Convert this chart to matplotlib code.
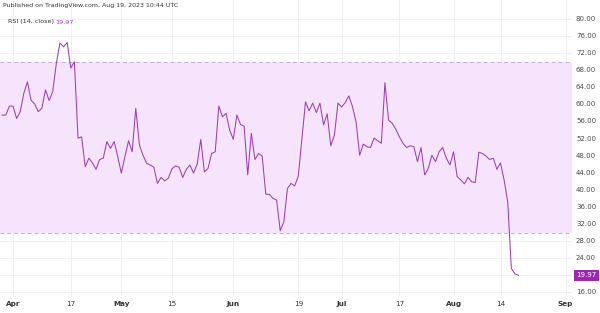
import matplotlib
matplotlib.use("Agg")
import matplotlib.pyplot as plt
import pandas as pd

start_date = "2023-03-29"
rsi_values = [
    57.5, 57.5, 59.6, 59.6, 56.7, 58.3, 62.6, 65.3, 61.0, 60.1,
    58.3, 59.1, 63.4, 60.9, 63.0, 69.6, 74.4, 73.5, 74.5, 68.5,
    70.0, 52.1, 52.4, 45.4, 47.4, 46.3, 44.8, 47.1, 47.4, 51.3,
    49.7, 51.3, 47.8, 43.9, 47.8, 51.5, 48.9, 59.1, 50.5, 48.1,
    46.2, 45.8, 45.3, 41.5, 42.9, 42.1, 42.7, 44.9, 45.6, 45.3,
    42.9, 44.8, 45.8, 43.9, 46.0, 51.8, 44.2, 45.0, 48.5, 48.9,
    59.6, 57.1, 57.9, 54.0, 51.8, 57.5, 55.3, 54.9, 43.5, 53.2,
    47.1, 48.5, 47.9, 39.0, 38.9, 38.0, 37.6, 30.4, 32.5, 40.3,
    41.5, 40.9, 43.2, 52.0, 60.6, 58.5, 60.3, 58.1, 60.3, 55.2,
    57.8, 50.3, 52.8, 60.3, 59.4, 60.4, 62.0, 59.5, 55.9, 48.1,
    50.7, 50.1, 49.9, 52.1, 51.5, 50.9, 65.1, 56.3, 55.6, 54.2,
    52.4, 50.9, 49.9, 50.3, 50.1, 46.6, 49.9, 43.5, 45.0, 48.1,
    46.6, 48.9, 49.9, 47.4, 45.8, 48.9, 43.1, 42.3, 41.4, 42.9,
    41.9, 41.7, 48.8, 48.5, 47.9, 47.1, 47.4, 44.8, 46.3, 42.3,
    37.2, 21.6, 20.3, 19.97,
]
dates = pd.date_range(start_date, periods=len(rsi_values), freq="D")

band_upper = 70
band_lower = 30
y_ticks = list(range(16, 81, 4))
x_tick_dates = ["2023-04-01", "2023-04-17", "2023-05-01", "2023-05-15", "2023-06-01",
                "2023-06-19", "2023-07-01", "2023-07-17", "2023-08-01", "2023-08-14",
                "2023-09-01"]
x_tick_labels = ["Apr", "17", "May", "15", "Jun", "19", "Jul", "17", "Aug", "14", "Sep"]
x_tick_bold = [True, False, True, False, True, False, True, False, True, False, True]
header = "Published on TradingView.com, Aug 19, 2023 10:44 UTC"
indicator_name = "RSI (14, close)"
last_value_text = "19.97"

line_color = "#9a3fb0"
text_color = "#4a4a4a"

fig = plt.figure(figsize=(6.0, 3.13), dpi=100)
ax = fig.add_axes([0.0, 17 / 313, 572 / 600, 1 - 17 / 313])

x0 = pd.Timestamp("2023-04-01") - pd.Timedelta(days=3.6)
x1 = pd.Timestamp("2023-04-01") + pd.Timedelta(days=154.8)
ax.set_xlim(x0, x1)
ax.set_ylim(15.13, 84.45)

# grid
for v in y_ticks:
    ax.axhline(v, color="#f0f0f4", lw=0.7, zorder=0)
for d in x_tick_dates:
    ax.axvline(pd.Timestamp(d), color="#f0f0f4", lw=0.7, zorder=0)

ax.axhspan(band_lower, band_upper, color="#f5e4fc", zorder=1, lw=0)
ax.axhline(band_upper, color="#c7a9d6", lw=0.7, ls=(0, (4, 3)), zorder=2)
ax.axhline(band_lower, color="#c7a9d6", lw=0.7, ls=(0, (4, 3)), zorder=2)

ax.plot(dates, rsi_values, color=line_color, lw=0.75, zorder=3)

for s in ax.spines.values():
    s.set_visible(False)
ax.set_xticks([])
ax.set_yticks([])

# right-side scale labels
for v in y_ticks:
    ax.text(1.0 + 4 / 572, v, f"{v:.2f}", transform=ax.get_yaxis_transform(),
            ha="left", va="center", fontsize=5.0, color=text_color, clip_on=False)

# last value box
ax.text(1.0 + 4 / 572, rsi_values[-1], last_value_text, transform=ax.get_yaxis_transform(),
        ha="left", va="center", fontsize=5.0, color="white", clip_on=False,
        bbox=dict(boxstyle="square,pad=0.35", fc="#9c27b0", ec="none"), zorder=5)

# date labels
for d, lab, b in zip(x_tick_dates, x_tick_labels, x_tick_bold):
    ax.text(pd.Timestamp(d), -8 / 296, lab, transform=ax.get_xaxis_transform(),
            ha="center", va="center", fontsize=5.2, color="#333333",
            fontweight="bold" if b else "normal", clip_on=False)

# header texts
fig.text(3 / 600, 1 - 6 / 313, header, ha="left", va="center", fontsize=4.5, color="#333333")
fig.text(8 / 600, 1 - 22 / 313, indicator_name, ha="left", va="center", fontsize=4.6,
         color="#333333")
fig.text(55 / 600, 1 - 22 / 313, last_value_text, ha="left", va="center", fontsize=4.6,
         color=line_color)

fig.savefig("out.png", dpi=100)
